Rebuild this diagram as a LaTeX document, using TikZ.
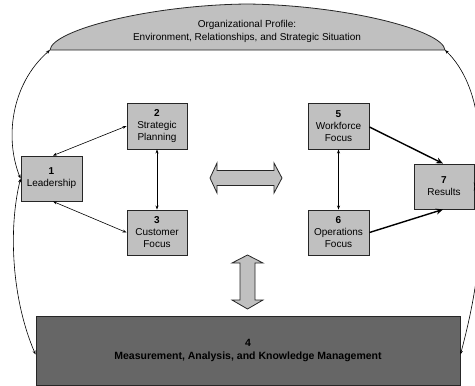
\documentclass[tikz,border=0pt]{standalone}
\usepackage{fontspec}
\setmainfont{Liberation Sans}
\usetikzlibrary{arrows.meta}
\definecolor{boxgray}{HTML}{C0C0C0}
\definecolor{darkbox}{HTML}{666666}
\begin{document}
\begin{tikzpicture}[x=1pt,y=-1pt,
  cbox/.style={draw=black!85, line width=0.9pt, fill=boxgray, align=center,
    font=\fontsize{10}{12}\selectfont, inner sep=0pt},
  thin/.style={line width=0.6pt, {Stealth[length=4pt,width=3pt]}-{Stealth[length=4pt,width=3pt]}},
  thick/.style={line width=1.4pt, -{Stealth[length=7pt,width=6pt]}},
  curv/.style={line width=0.6pt, {Stealth[length=4pt,width=3pt]}-{Stealth[length=4pt,width=3pt]}},
  block/.style={draw=black!85, line width=0.8pt, fill=boxgray}]
\useasboundingbox (0,0) rectangle (475,386);
% profile dome
\draw[draw=black!85, line width=0.8pt, fill=boxgray]
  (50,50) .. controls (52,30) and (150,5) .. (247,4)
  .. controls (344,5) and (443,30) .. (445,50) -- cycle;
\coordinate (domeL) at (50,50);
\coordinate (domeR) at (445,50);
\node[align=center, font=\fontsize{10}{13}\selectfont] (prof) at (247,31.5)
  {Organizational Profile:\\Environment, Relationships, and Strategic Situation};
% boxes
\node[cbox, minimum width=61pt, minimum height=45pt] (b1) at (51.5,178.5) {\textbf{1}\\Leadership};
\node[cbox, minimum width=60pt, minimum height=46pt] (b2) at (157,126) {\textbf{2}\\Strategic\\Planning};
\node[cbox, minimum width=60pt, minimum height=45pt] (b3) at (157,232.5) {\textbf{3}\\Customer\\Focus};
\node[cbox, minimum width=61pt, minimum height=46pt] (b5) at (338.5,126) {\textbf{5}\\Workforce\\Focus};
\node[cbox, minimum width=61pt, minimum height=45pt] (b6) at (338.5,232.5) {\textbf{6}\\Operations\\Focus};
\node[cbox, minimum width=60pt, minimum height=45pt] (b7) at (444,186.5) {\textbf{7}\\Results};
\node[cbox, fill=darkbox, minimum width=424pt, minimum height=69pt,
  font=\bfseries\fontsize{10.5}{13}\selectfont] (b4) at (248,350.5)
  {4\\Measurement, Analysis, and Knowledge Management};
% block arrows
\draw[block] (210,178) -- (217,163) -- (217,170.5) -- (274,170.5) -- (274,163) -- (282,178)
  -- (274,193) -- (274,185.5) -- (217,185.5) -- (217,193) -- cycle;
\draw[block] (247.5,255) -- (263,263) -- (255,263) -- (255,300) -- (263,300) -- (247.5,309)
  -- (232,300) -- (240,300) -- (240,263) -- (232,263) -- cycle;
% thin connectors
\draw[thin] (b1.north) ++(1.5,0) coordinate (b1n) (b1n) -- (b2.west);
\draw[thin] (b1.south) ++(1.5,0) coordinate (b1s) (b1s) -- (b3.west);
\draw[thin] (b2.south) -- (b3.north);
\draw[thin] (b5.south) -- (b6.north);
% thick arrows
\draw[thick] (b5.east) ++(0,1) coordinate (b5e) (b5e) -- ([xshift=-1pt]b7.north);
\draw[thick] (b6.east) -- ([xshift=-1pt]b7.south);
% big curves
\draw[curv] (b1.west) .. controls (5,140) and (10,85) .. (domeL);
\draw[curv] (b1.west) .. controls (8,230) and (12,300) .. ([yshift=-4pt]b4.west);
\draw[curv] (b7.east) .. controls (486,130) and (474,78) .. (domeR);
\draw[curv] (b7.east) .. controls (486,240) and (475,300) .. ([yshift=-4pt]b4.east);
\end{tikzpicture}
\end{document}
